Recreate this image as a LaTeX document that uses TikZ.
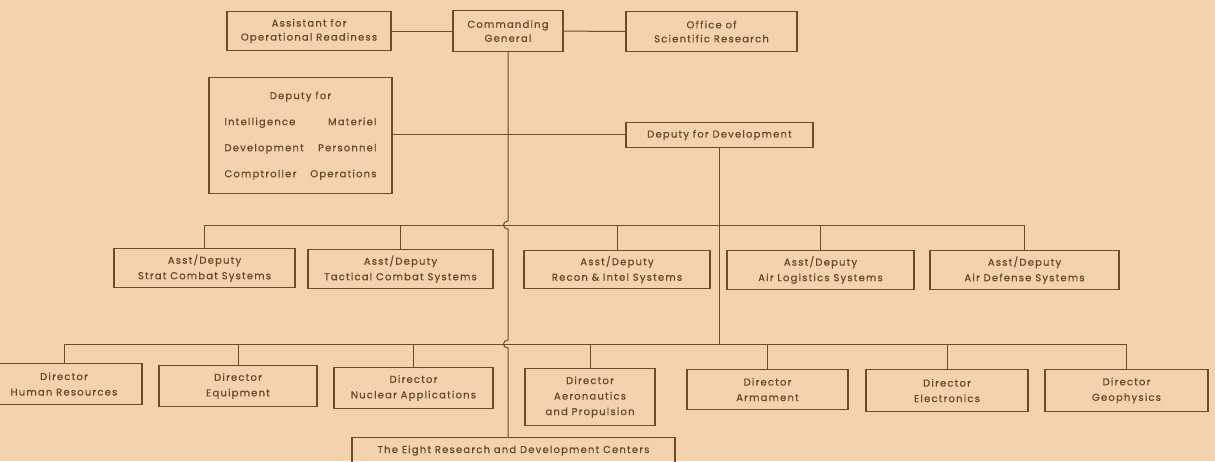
\documentclass[tikz,border=0pt]{standalone}
\usepackage{fontspec}
\setmainfont{Poppins}[LetterSpace=12,FakeBold=0.6]
\definecolor{bg}{HTML}{F2D3AE}
\definecolor{ln}{HTML}{6E4B2B}
\definecolor{tx}{HTML}{6B4628}
\begin{document}
\begin{tikzpicture}[x=1pt,y=-1pt,
  box/.style={draw=ln, line width=1.1pt, text=tx, font=\fontsize{10}{15.5}\selectfont, align=center, inner sep=0pt, anchor=north},
  conn/.style={draw=ln, line width=1pt}]
\useasboundingbox (0,0) rectangle (1215,461);
\fill[bg] (0,0) rectangle (1215,461);
% top row
\node[box, minimum width=164pt, minimum height=39pt] (aor) at (309,11) {Assistant for\\[-1.5pt]Operational Readiness};
\node[box, minimum width=110pt, minimum height=41pt] (cg) at (508,10) {Commanding\\[-1.5pt]General};
\node[box, minimum width=171pt, minimum height=40pt] (osr) at (711.5,11) {Office of\\[-1.5pt]Scientific Research};
% deputies
\node[box, minimum width=183pt, minimum height=116pt, text height=100pt] (dep) at (300.5,77) {};
\node[text=tx, font=\fontsize{10}{15.5}\selectfont, inner sep=0pt] (deptxt) at (300.5,133) {%
  \def\arraystretch{1.68}\begin{tabular*}{152pt}{@{}l@{\extracolsep{\fill}}r@{}}
  \multicolumn{2}{c}{Deputy for}\\
  Intelligence & Materiel\\
  Development & Personnel\\
  Comptroller & Operations
  \end{tabular*}};
\node[box, minimum width=187pt, minimum height=25pt] (dd) at (719.5,122) {Deputy for Development};
% asst deputies
\node[box, minimum width=181pt, minimum height=39pt] (a1) at (204.5,248) {Asst/Deputy\\Strat Combat Systems};
\node[box, minimum width=185pt, minimum height=39pt] (a2) at (400.5,249) {Asst/Deputy\\Tactical Combat Systems};
\node[box, minimum width=186pt, minimum height=38pt] (a3) at (617,250) {Asst/Deputy\\Recon \& Intel Systems};
\node[box, minimum width=187pt, minimum height=39pt] (a4) at (820.5,250) {Asst/Deputy\\Air Logistics Systems};
\node[box, minimum width=189pt, minimum height=39pt] (a5) at (1024.5,250) {Asst/Deputy\\Air Defense Systems};
% directors
\node[box, minimum width=156pt, minimum height=41pt] (d1) at (64,363) {Director\\Human Resources};
\node[box, minimum width=158pt, minimum height=41pt] (d2) at (238,365) {Director\\Equipment};
\node[box, minimum width=159pt, minimum height=41pt] (d3) at (413.5,367) {Director\\Nuclear Applications};
\node[box, minimum width=130pt, minimum height=57pt] (d4) at (590,368) {Director\\Aeronautics\\and Propulsion};
\node[box, minimum width=161pt, minimum height=40pt] (d5) at (767.5,369) {Director\\Armament};
\node[box, minimum width=162pt, minimum height=42pt] (d6) at (947,369) {Director\\Electronics};
\node[box, minimum width=163pt, minimum height=42pt] (d7) at (1126.5,369) {Director\\Geophysics};
\node[box, minimum width=323pt, minimum height=26pt] (eight) at (513.5,437) {The Eight Research and Development Centers};
% buses
\coordinate (busA) at (0,225);
\coordinate (busB) at (0,344);
\coordinate (hA1) at (508,221);
\coordinate (hA2) at (508,229);
\coordinate (hB1) at (508,340);
\coordinate (hB2) at (508,348);
\coordinate (depline) at (392,134);
% connectors
\draw[conn] (aor) -- (cg);
\draw[conn] (cg) -- (osr);
\draw[conn] (depline) -- (depline -| dd.west);
\draw[conn] (cg.south) -- (hA1) .. controls ++(-6,0) and ++(-6,0) .. (hA2) -- (hB1) .. controls ++(-6,0) and ++(-6,0) .. (hB2) -- (cg.south |- eight.north);
\draw[conn] (dd.south) -- (dd.south |- busB);
\draw[conn] (a1.north |- busA) -- (a5.north |- busA);
\foreach \n in {a1,a2,a3,a4,a5} \draw[conn] (\n.north) -- (\n.north |- busA);
\draw[conn] (d1.north |- busB) -- (d7.north |- busB);
\foreach \n in {d1,d2,d3,d4,d5,d6,d7} \draw[conn] (\n.north) -- (\n.north |- busB);
\end{tikzpicture}
\end{document}
